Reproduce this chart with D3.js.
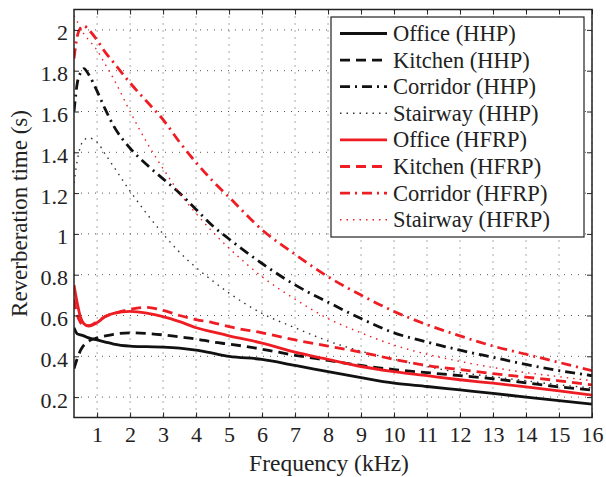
<!DOCTYPE html>
<html><head><meta charset="utf-8">
<script src="https://cdn.jsdelivr.net/npm/d3@7"></script>
<style>body{margin:0;background:#fff}svg{display:block}</style>
</head><body>
<svg id="c" width="606" height="477"></svg>
<script>
const freq = [0.3,0.4,0.5,0.6,0.75,1,1.25,1.5,2,2.5,3,3.5,4,4.5,5,6,7,8,9,10,11,12,13,14,15,16];
const officeHHP   = [0.54,0.51,0.505,0.50,0.49,0.48,0.47,0.46,0.45,0.447,0.445,0.44,0.43,0.415,0.40,0.385,0.355,0.325,0.295,0.268,0.252,0.235,0.218,0.20,0.183,0.166];
const kitchenHHP  = [0.34,0.39,0.43,0.455,0.475,0.49,0.50,0.508,0.515,0.512,0.505,0.495,0.485,0.47,0.46,0.435,0.405,0.38,0.355,0.335,0.32,0.305,0.29,0.27,0.25,0.235];
const corridorHHP = [1.60,1.74,1.79,1.81,1.78,1.70,1.61,1.53,1.42,1.34,1.27,1.20,1.12,1.04,0.975,0.855,0.75,0.665,0.585,0.515,0.47,0.43,0.395,0.36,0.33,0.305];
const stairwayHHP = [1.25,1.36,1.43,1.46,1.47,1.45,1.39,1.33,1.21,1.10,1.0,0.91,0.835,0.77,0.71,0.61,0.54,0.475,0.425,0.385,0.35,0.32,0.30,0.28,0.26,0.245];
const officeHFRP  = [0.75,0.66,0.59,0.56,0.548,0.565,0.595,0.61,0.62,0.612,0.595,0.57,0.54,0.52,0.50,0.465,0.42,0.385,0.35,0.325,0.305,0.285,0.268,0.25,0.23,0.21];
const kitchenHFRP = [0.68,0.60,0.565,0.55,0.55,0.57,0.595,0.61,0.63,0.64,0.625,0.60,0.58,0.565,0.545,0.515,0.48,0.45,0.42,0.385,0.355,0.335,0.315,0.298,0.28,0.26];
const corridorHFRP= [1.86,1.97,2.01,2.02,2.0,1.95,1.89,1.84,1.74,1.65,1.56,1.45,1.35,1.26,1.18,1.02,0.90,0.79,0.70,0.62,0.555,0.50,0.45,0.41,0.37,0.33];
const stairwayHFRP= [2.07,2.04,2.01,1.98,1.95,1.90,1.83,1.76,1.60,1.45,1.32,1.20,1.10,1.01,0.93,0.79,0.68,0.585,0.515,0.455,0.41,0.375,0.345,0.32,0.30,0.28];
const seriesNames = ["Office (HHP)","Kitchen (HHP)","Corridor (HHP)","Stairway (HHP)","Office (HFRP)","Kitchen (HFRP)","Corridor (HFRP)","Stairway (HFRP)"];
const seriesValues = [officeHHP,kitchenHHP,corridorHHP,stairwayHHP,officeHFRP,kitchenHFRP,corridorHFRP,stairwayHFRP];
const xTicks = [1,2,3,4,5,6,7,8,9,10,11,12,13,14,15,16];
const yTicks = [0.2,0.4,0.6,0.8,1,1.2,1.4,1.6,1.8,2];

const FONT = "Liberation Serif";
const styles = [
  {c:"#111", w:2.8, d:null},
  {c:"#111", w:2.8, d:"10,6"},
  {c:"#111", w:2.8, d:"10,5,2,5"},
  {c:"#333", w:1.4, d:"1.5,5"},
  {c:"#ee1d23", w:2.8, d:null},
  {c:"#ee1d23", w:2.8, d:"10,6"},
  {c:"#ee1d23", w:2.8, d:"10,5,2,5"},
  {c:"#ee1d23", w:1.4, d:"1.5,5"}
];

const L=74, R=592, T=9.5, B=417.5;
const svg = d3.select("#c");
const x = d3.scaleLinear().domain([0.3,16]).range([L,R]);
const y = d3.scaleLinear().domain([0.1,2.1]).range([B,T]);

// grid
const g = svg.append("g");
g.selectAll(".gx").data(xTicks).enter().append("line")
  .attr("x1",d=>x(d)).attr("x2",d=>x(d)).attr("y1",T).attr("y2",B)
  .attr("stroke","#555").attr("stroke-width",1).attr("stroke-dasharray","1,6");
g.selectAll(".gy").data(yTicks).enter().append("line")
  .attr("y1",d=>y(d)).attr("y2",d=>y(d)).attr("x1",L).attr("x2",R)
  .attr("stroke","#555").attr("stroke-width",1).attr("stroke-dasharray","1,6");

svg.append("clipPath").attr("id","clip").append("rect").attr("x",L).attr("y",T).attr("width",R-L).attr("height",B-T);

const line = d3.line().x((d,i)=>x(freq[i])).y(d=>y(d)).curve(d3.curveMonotoneX);
const plot = svg.append("g").attr("clip-path","url(#clip)");
seriesValues.forEach((vals,k)=>{
  plot.append("path").datum(vals).attr("d",line).attr("fill","none")
    .attr("stroke",styles[k].c).attr("stroke-width",styles[k].w)
    .attr("stroke-dasharray",styles[k].d);
});

// axes (inward ticks, all four sides)
const tk=5;
const axB = d3.axisBottom(x).tickValues(xTicks).tickSize(-tk).tickPadding(9).tickFormat(d3.format("d"));
const axT = d3.axisTop(x).tickValues(xTicks).tickSize(-tk).tickFormat("");
const axLft = d3.axisLeft(y).tickValues(yTicks).tickSize(-tk).tickPadding(6).tickFormat(d=>String(+d.toFixed(1)));
const axRgt = d3.axisRight(y).tickValues(yTicks).tickSize(-tk).tickFormat("");
function styleAx(s){ s.attr("font-family",FONT).attr("font-size",22); s.select(".domain").remove(); s.selectAll(".tick line").attr("stroke","#222").attr("stroke-width",1);
  s.selectAll("text").attr("fill","#222").attr("font-family",FONT); }
svg.append("g").attr("transform",`translate(0,${B})`).call(axB).call(styleAx);
svg.append("g").attr("transform",`translate(0,${T})`).call(axT).call(styleAx);
svg.append("g").attr("transform",`translate(${L},0)`).call(axLft).call(styleAx).selectAll("text").attr("dy","0.45em");
svg.append("g").attr("transform",`translate(${R},0)`).call(axRgt).call(styleAx);
svg.append("rect").attr("x",L).attr("y",T).attr("width",R-L).attr("height",B-T).attr("fill","none").attr("stroke","#222").attr("stroke-width",1.5);

// labels
svg.append("text").attr("x",(L+R)/2-4).attr("y",471).attr("text-anchor","middle").attr("font-family",FONT).attr("font-size",23.5).attr("fill","#222").text("Frequency (kHz)");
svg.append("text").attr("transform",`translate(27,${(T+B)/2}) rotate(-90)`).attr("text-anchor","middle").attr("font-family",FONT).attr("font-size",23).attr("fill","#222").text("Reverberation time (s)");

// legend
const lg = svg.append("g");
lg.append("rect").attr("x",331).attr("y",17).attr("width",253).attr("height",220).attr("fill","#fff").attr("stroke","#222").attr("stroke-width",1.2);
seriesNames.forEach((n,k)=>{
  const cy = 33.5 + k*26.6;
  lg.append("line").attr("x1",340).attr("x2",387).attr("y1",cy).attr("y2",cy)
    .attr("stroke",styles[k].c).attr("stroke-width",styles[k].w).attr("stroke-dasharray",styles[k].d);
  lg.append("text").attr("x",393).attr("y",cy+7.5).attr("font-family",FONT).attr("font-size",22.5).attr("fill","#222").text(n);
});
</script>
</body></html>
